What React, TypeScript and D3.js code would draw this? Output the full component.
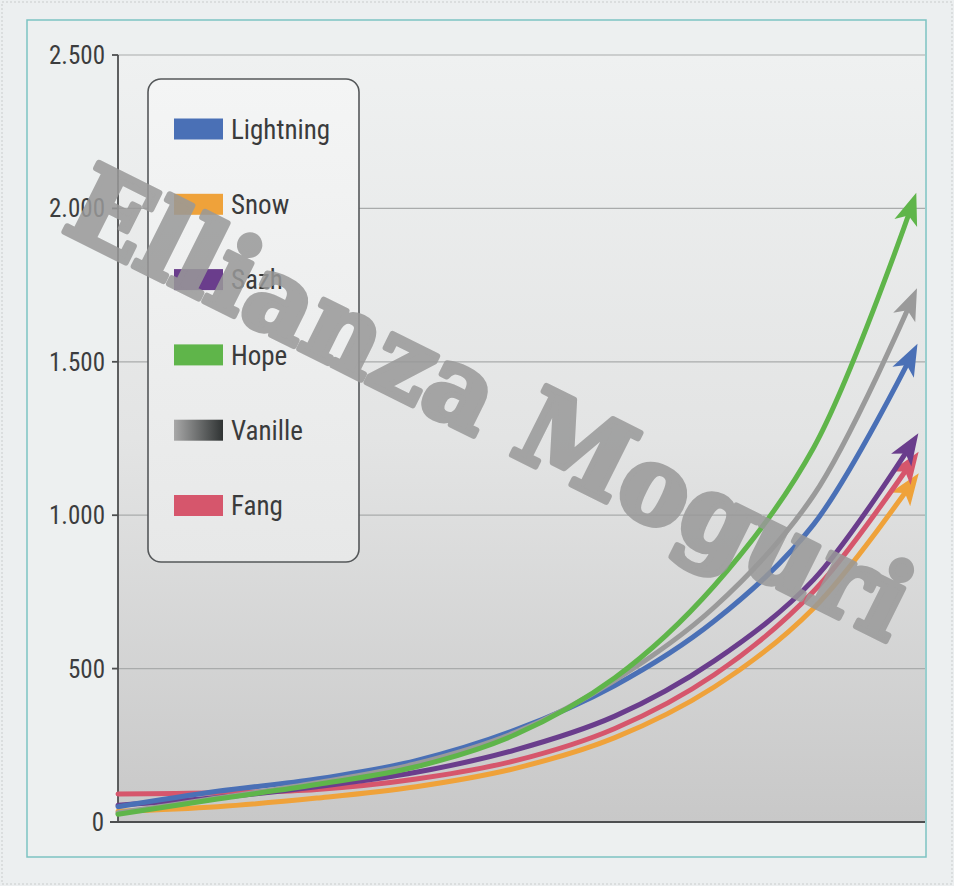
import React from "react";
import * as d3 from "d3";

const seriesNames = ["Lightning", "Snow", "Sazh", "Hope", "Vanille", "Fang"];
const lightning = [50, 100, 140, 200, 300, 445, 655, 970, 1530];
const snow = [35, 50, 78, 115, 175, 275, 440, 697, 1110];
const sazh = [55, 80, 115, 162, 235, 345, 525, 790, 1240];
const hope = [25, 75, 122, 180, 285, 470, 770, 1220, 2020];
const vanille = [30, 78, 128, 190, 292, 462, 700, 1065, 1710];
const fang = [91, 95, 106, 140, 200, 305, 480, 752, 1180];
const yTicks = [0, 500, 1000, 1500, 2000, 2500];
const yTickLabels = ["0", "500", "1.000", "1.500", "2.000", "2.500"];
const watermark = "Ellianza Moguri";

const colors: Record<string, string> = {
  Lightning: "#4a70b6",
  Snow: "#efa23a",
  Sazh: "#6a3d8c",
  Hope: "#5fb54a",
  Vanille: "#9a9a9a",
  Fang: "#d6566c",
};

const valuesByName: Record<string, number[]> = {
  Lightning: lightning,
  Snow: snow,
  Sazh: sazh,
  Hope: hope,
  Vanille: vanille,
  Fang: fang,
};

const drawOrder = ["Snow", "Fang", "Sazh", "Lightning", "Vanille", "Hope"];

export default function App() {
  const W = 954;
  const H = 886;
  const left = 118;
  const right = 925;
  const top = 55;
  const bottom = 822;
  const y = d3.scaleLinear().domain([0, 2500]).range([bottom, top]);
  const x = d3.scaleLinear().domain([0, 8]).range([118, 913]);
  const line = d3
    .line<number>()
    .x((_, i) => x(i))
    .y((d) => y(d))
    .curve(d3.curveCatmullRom.alpha(0.5));

  const font = "'Liberation Sans Narrow', 'Roboto Condensed', 'Liberation Sans', Arial, sans-serif";

  const legendX = 148;
  const legendY = 79;
  const legendW = 211;
  const legendH = 483;
  const rowStep = 75.3;

  return (
    <svg
      width={W}
      height={H}
      style={{ position: "absolute", left: 0, top: 0 }}
      xmlns="http://www.w3.org/2000/svg"
    >
      <defs>
        <linearGradient id="plotBg" x1="0" y1="0" x2="0" y2="1">
          <stop offset="0" stopColor="#eff1f1" />
          <stop offset="0.5" stopColor="#e3e4e4" />
          <stop offset="1" stopColor="#c8c8c8" />
        </linearGradient>
        <linearGradient id="legBg" x1="0" y1="0" x2="0" y2="1">
          <stop offset="0" stopColor="#f4f5f5" />
          <stop offset="1" stopColor="#e7e8e8" />
        </linearGradient>
        <linearGradient id="vanSw" x1="0" y1="0" x2="1" y2="0">
          <stop offset="0" stopColor="#a8a8a8" />
          <stop offset="1" stopColor="#2f3333" />
        </linearGradient>
        {seriesNames.map((n) => (
          <marker
            key={n}
            id={"arr-" + n}
            markerUnits="userSpaceOnUse"
            viewBox="-30 -15 45 30"
            refX={0}
            refY={0}
            markerWidth={45}
            markerHeight={30}
            orient="auto"
          >
            <path d="M10,0 L-22,-12 L-14,0 L-22,12 Z" fill={colors[n]} />
          </marker>
        ))}
      </defs>

      <rect x={0} y={0} width={W} height={H} fill="#eceff0" />
      <rect x={2} y={2} width={W - 4} height={H - 4} fill="none" stroke="#c9cccc" strokeDasharray="2 2" />

      {/* frame */}
      <rect x={27} y={20} width={899} height={837} fill="#edf0f0" stroke="#7cc3c2" strokeWidth={1.5} />

      {/* plot bg */}
      <rect x={left} y={top} width={right - left} height={bottom - top} fill="url(#plotBg)" />

      {/* gridlines */}
      {yTicks.slice(1).map((t) => (
        <line key={t} x1={left} x2={right} y1={y(t)} y2={y(t)} stroke="#a9abab" strokeWidth={1.2} />
      ))}

      {/* axes */}
      <line x1={left} x2={left} y1={top} y2={bottom} stroke="#4d4f50" strokeWidth={1.8} />
      <line x1={110} x2={right} y1={bottom} y2={bottom} stroke="#4d4f50" strokeWidth={2} />
      {yTicks.slice(1).map((t) => (
        <line key={t} x1={112} x2={left} y1={y(t)} y2={y(t)} stroke="#4d4f50" strokeWidth={1.8} />
      ))}
      {yTicks.map((t, i) => (
        <text
          key={t}
          x={t === 0 ? 104 : 105}
          y={y(t)}
          dy="0.36em"
          textAnchor="end"
          fontFamily={font}
          fontSize={25}
          fill="#3c3d3e"
        >
          {yTickLabels[i]}
        </text>
      ))}

      {/* lines */}
      {drawOrder.map((n) => (
        <path
          key={n}
          d={line(valuesByName[n]) || ""}
          fill="none"
          stroke={colors[n]}
          strokeWidth={5}
          strokeLinecap="round"
          markerEnd={`url(#arr-${n})`}
        />
      ))}

      {/* legend */}
      <rect
        x={legendX}
        y={legendY}
        width={legendW}
        height={legendH}
        rx={13}
        fill="url(#legBg)"
        stroke="#55585a"
        strokeWidth={1.6}
      />
      {seriesNames.map((n, i) => {
        const cy = 129 + i * rowStep;
        return (
          <g key={n}>
            <rect
              x={174}
              y={cy - 10.5}
              width={49}
              height={21}
              fill={n === "Vanille" ? "url(#vanSw)" : colors[n]}
            />
            <text x={231} y={cy} dy="0.36em" fontFamily={font} fontSize={27} fill="#3a3b3c">
              {n}
            </text>
          </g>
        );
      })}

      {/* watermark */}
      <g opacity={0.85}>
        <text
          x={0}
          y={0}
          transform="translate(474,436) rotate(26.5)"
          textAnchor="middle"
          fontFamily="'DejaVu Serif', serif"
          fontWeight="bold"
          fontSize={106}
          textLength={925}
          lengthAdjust="spacingAndGlyphs"
          fill="#999999"
          stroke="#999999"
          strokeWidth={6}
          strokeLinejoin="round"
        >
          {watermark}
        </text>
      </g>
    </svg>
  );
}
